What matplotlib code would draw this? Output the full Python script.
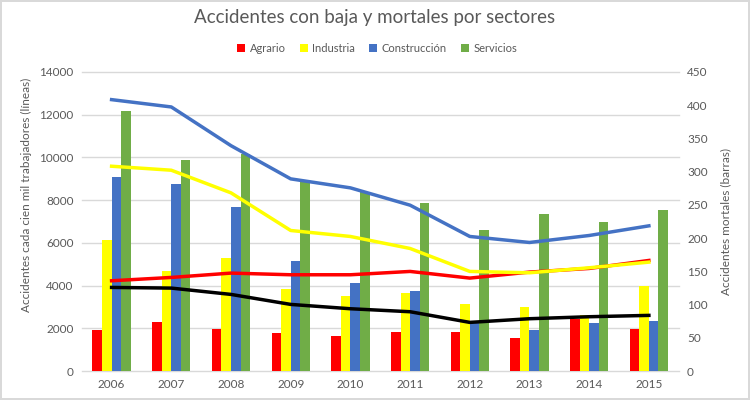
import numpy as np
import matplotlib
matplotlib.use("Agg")
import matplotlib.pyplot as plt

# Accidentes con baja y mortales por sectores, 2006-2015
years = ["2006", "2007", "2008", "2009", "2010", "2011", "2012", "2013", "2014", "2015"]
sectors = ["Agrario", "Industria", "Construcción", "Servicios"]

# accidentes mortales (barras, eje derecho)
mort_agrario = [61, 74, 63, 57, 53, 59, 59, 50, 79, 63]
mort_industria = [197, 150, 170, 124, 113, 117, 101, 96, 84, 128]
mort_construccion = [292, 282, 247, 165, 133, 121, 76, 61, 72, 76]
mort_servicios = [392, 317, 326, 285, 269, 253, 212, 236, 225, 243]

# indice de incidencia (lineas, eje izquierdo)
inc_agrario = [4225, 4381, 4584, 4506, 4506, 4662, 4350, 4631, 4802, 5176]
inc_industria = [9588, 9401, 8341, 6579, 6299, 5737, 4662, 4599, 4833, 5098]
inc_construccion = [12706, 12363, 10550, 8996, 8575, 7764, 6299, 6018, 6345, 6797]
inc_total = [3913, 3882, 3586, 3118, 2915, 2775, 2276, 2448, 2541, 2604]

colors = ["#ff0000", "#ffff00", "#4472c4", "#70ad47"]
grey = "#595959"

plt.rcParams["font.family"] = ["Lato", "DejaVu Sans"]

fig = plt.figure(figsize=(7.5, 4), dpi=100)
fig.patch.set_edgecolor("#d9d9d9")
fig.patch.set_linewidth(1.5)

ax = fig.add_axes([0.109, 0.0725, 0.796, 0.7475])
axr = ax.twinx()
ax.set_zorder(axr.get_zorder() + 1)
ax.patch.set_visible(False)

x = np.arange(len(years))
w = 0.16

# bars on the right axis
mort = [mort_agrario, mort_industria, mort_construccion, mort_servicios]
for i, (vals, name) in enumerate(zip(mort, sectors)):
    axr.bar(x + (i - 1.5) * w, vals, width=w, color=colors[i], label=name, zorder=2)

axr.set_ylim(0, 450)
axr.set_yticks(np.arange(0, 451, 50))

# lines on the left axis
ax.plot(x, inc_agrario, color="#ff0000", lw=2.5)
ax.plot(x, inc_industria, color="#ffff00", lw=2.5)
ax.plot(x, inc_construccion, color="#4472c4", lw=2.5)
ax.plot(x, inc_total, color="black", lw=2.5)
ax.set_ylim(0, 14000)
ax.set_yticks(np.arange(0, 14001, 2000))
ax.set_xlim(-0.5, len(years) - 0.5)
ax.set_xticks(x)
ax.set_xticklabels(years)

# gridlines behind the bars, at the left-axis ticks
for v in ax.get_yticks():
    axr.plot([0, 1], [v, v], transform=ax.get_yaxis_transform(),
             color="#d9d9d9", lw=1, zorder=0, clip_on=False)

for a in (ax, axr):
    for s in a.spines.values():
        s.set_visible(False)
    a.tick_params(length=0, labelsize=8.5, colors=grey, pad=6)

ax.set_ylabel("Accidentes cada cien mil trabajadores (líneas)", color=grey, fontsize=8.5)
ax.yaxis.set_label_coords(-0.083, 0.59)
axr.set_ylabel("Accidentes mortales (barras)", color=grey, fontsize=8.5)
axr.yaxis.set_label_coords(1.07, 0.5)

fig.text(0.5, 0.955, "Accidentes con baja y mortales por sectores", ha="center", va="center",
         fontsize=13.5, color=grey)
fig.legend(loc="center", bbox_to_anchor=(0.503, 0.88), ncol=4, frameon=False,
           fontsize=8, handlelength=0.7, handleheight=0.7, handletextpad=0.4,
           columnspacing=1.3, labelcolor=grey)

fig.savefig("out.png", dpi=100)
